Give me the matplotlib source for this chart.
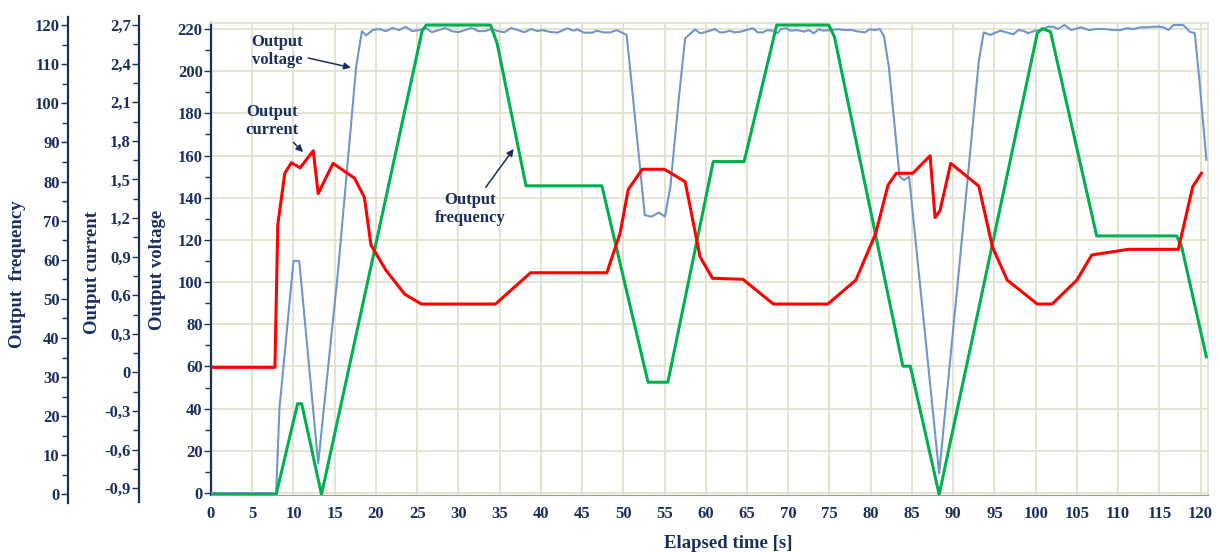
import matplotlib.pyplot as plt
from matplotlib.ticker import FixedLocator, MultipleLocator, FuncFormatter

NAVY = "#1b2f5e"
GRID = "#e2e2cc"
SERIF = "Liberation Serif"

# output voltage [V]
volt_t = [0, 7.9, 8.3, 10.0, 10.7, 13.0, 15.4, 17.6, 18.3,
          18.8, 19.6, 20.4, 21.2, 22.0, 22.8, 23.6, 24.4, 25.2, 26.0,
          26.8, 27.6, 28.4, 29.2, 30.0, 30.8, 31.6, 32.4, 33.2, 34.0,
          34.8, 35.6, 36.4, 37.2, 38.0, 38.8, 39.6, 40.2, 41.0, 42.0,
          43.2, 44.0, 44.4, 45.2, 46.2, 46.8, 47.6, 48.4, 49.2, 50.4,
          50.8, 52.6, 53.4, 54.3, 55.05, 55.7, 56.7, 57.5, 58.7, 59.3,
          59.9, 60.5, 61.1, 61.7, 62.3, 62.9, 63.5, 64.3, 64.9, 65.7,
          66.3, 66.9, 67.5, 68.1, 68.7, 69.1, 69.7, 70.3, 71.1, 71.9,
          72.5, 73.1, 73.7, 74.3, 75.1, 76.1, 76.9, 77.7, 78.5, 79.3,
          79.9, 80.5, 81.1, 81.6,
          82.2, 83.5, 84.05, 84.65, 88.3, 90.7, 93.1, 93.7,
          94.5, 95.7, 96.5, 97.3, 97.9, 98.5, 99.1, 99.9, 100.7, 101.5,
          102.1, 102.7, 103.5, 104.3, 105.5, 106.5, 107.3, 108.3, 109.5, 110.3,
          111.1, 111.9, 112.7, 113.5, 114.3, 114.9, 115.5, 116.1, 116.7, 117.9,
          118.7, 119.3, 119.9, 120.7]
volt_v = [0, 0, 40, 110, 110, 14, 105, 202, 219,
          217, 219.5, 220, 219, 220.5, 219.5, 221, 219, 219.5, 220.5,
          218.5, 219.5, 220.5, 219, 218.5, 219.5, 220.5, 219, 219, 220,
          219, 218.5, 220.5, 219.5, 218.5, 220, 219, 219.5, 218.7, 218.3,
          220.3, 219.2, 219.9, 218.3, 218.3, 219.2, 218.4, 218.4, 219.5, 217.2,
          202, 131.8, 131, 133, 131, 145, 186, 215.6, 219.8, 218,
          218.5, 219.2, 220, 218.4, 218.5, 219.2, 218.4, 218.8, 219.5, 220.4,
          218.4, 218.4, 219.5, 219.2, 218, 219.9, 220.4, 219.2, 219.5, 218.8,
          219.5, 218, 219.9, 219.2, 219.5, 219.9, 219.5, 219.5, 218.8, 218.4,
          219.9, 219.5, 220, 216.7,
          202, 150, 148.4, 150, 9.3, 105.7, 204.5, 218.4,
          217.2, 219.2, 218.4, 217.5, 219.5, 219.2, 218, 219.2, 219.5, 221.1,
          221.1, 220, 221.9, 219.5, 220.8, 219.5, 220, 220, 219.5, 219.5,
          220.4, 220, 220.8, 220.8, 221.1, 221.1, 220.8, 219.5, 221.9, 221.9,
          218.7, 218, 194, 158]

# output frequency [Hz]
freq_t = [0, 7.9, 10.5, 11.0, 13.4, 25.6, 26.1, 33.9, 34.7, 38.2,
          47.4, 53.0, 55.4, 60.9, 64.65, 68.6, 74.9, 75.6, 83.9, 84.8,
          88.3, 100.2, 100.8, 101.8, 107.4, 117.1, 117.7, 120.7]
freq_v = [0, 0, 23.2, 23.2, 0, 118.5, 120, 120, 115.3, 78.9,
          78.9, 28.7, 28.7, 85.1, 85.1, 120, 120, 117, 32.8, 32.8,
          0, 117.9, 119.1, 118.3, 66.1, 66.1, 63.4, 35.2]

# output current [A]
curr_t = [0, 7.75, 8.1, 8.95, 9.75, 10.8, 12.4, 13.0, 14.8, 17.4,
          18.6, 19.4, 21.2, 23.5, 25.5, 34.5, 38.75, 48.0, 49.6, 50.6,
          52.3, 55.0, 57.5, 59.3, 60.8, 64.5, 68.2, 74.8, 78.2, 80.6,
          82.1, 83.1, 85.1, 87.2, 87.8, 88.4, 89.7, 93.1, 94.75, 96.55,
          100.2, 102.0, 105.0, 106.8, 111.25, 117.3, 119.05, 120.1]
curr_v = [0.04, 0.04, 1.15, 1.548, 1.63, 1.59, 1.723, 1.39, 1.625, 1.51,
          1.361, 0.99, 0.796, 0.608, 0.532, 0.532, 0.775, 0.775, 1.08, 1.423,
          1.579, 1.579, 1.482, 0.90, 0.732, 0.724, 0.532, 0.532, 0.718, 1.08,
          1.457, 1.548, 1.548, 1.684, 1.205, 1.257, 1.625, 1.449, 0.977, 0.718,
          0.532, 0.532, 0.718, 0.913, 0.957, 0.957, 1.444, 1.548]

x_ticks = list(range(0, 121, 5))
volt_ticks = list(range(0, 221, 20))
freq_ticks = list(range(0, 121, 10))
curr_ticks = [-0.9, -0.6, -0.3, 0, 0.3, 0.6, 0.9, 1.2, 1.5, 1.8, 2.1, 2.4, 2.7]

W, H = 1220, 552
fig = plt.figure(figsize=(W / 100, H / 100), dpi=100)
ax = fig.add_axes([211 / W, 57 / H, 997 / W, 472.3 / H])

tick_font = dict(family=SERIF, weight="bold", size=12, color=NAVY)


def style_yaxis(a, ticks, minor_step, fmt=None):
    a.yaxis.set_major_locator(FixedLocator(ticks))
    a.yaxis.set_minor_locator(MultipleLocator(minor_step))
    if fmt is not None:
        a.yaxis.set_major_formatter(FuncFormatter(fmt))
    a.tick_params(axis="y", which="major", direction="out", length=5, width=1,
                  color=NAVY, pad=1)
    a.tick_params(axis="y", which="minor", direction="out", length=4, width=1,
                  color=NAVY)
    for lab in a.get_yticklabels():
        lab.set(**tick_font)


# main axes: voltage
ax.plot(volt_t, volt_v, color="#6f96cc", lw=1.5, zorder=3)
ax.set_xlim(0, 120.9)
ax.set_ylim(-0.95, 223)
ax.set_xticks(x_ticks)
ax.tick_params(axis="x", length=0, pad=8)
for lab in ax.get_xticklabels():
    lab.set(**tick_font)
style_yaxis(ax, volt_ticks, 10)
ax.grid(True, color=GRID, lw=1.3)
ax.set_axisbelow(True)
ax.spines["left"].set_color(NAVY)
ax.spines["left"].set_linewidth(1.6)
ax.spines["bottom"].set_color("#9a9a9a")
ax.spines["top"].set_color(GRID)
ax.spines["right"].set_color(GRID)
ax.spines["top"].set_linewidth(1.3)
ax.spines["right"].set_linewidth(1.3)

# frequency axis
ax_f = ax.twinx()
ax_f.plot(freq_t, freq_v, color="#00b050", lw=2.2, zorder=3)
ax_f.set_ylim(-0.13, 120.6)
for side in ["right", "top", "bottom"]:
    ax_f.spines[side].set_visible(False)
ax_f.yaxis.tick_left()
ax_f.spines["left"].set_visible(True)
ax_f.spines["left"].set_position(("axes", (68 - 211) / 997))
ax_f.spines["left"].set_color(NAVY)
ax_f.spines["left"].set_linewidth(1.6)
ax_f.spines["left"].set_bounds(-2.2, 122)
style_yaxis(ax_f, freq_ticks, 5)

# current axis
ax_c = ax.twinx()
ax_c.plot(curr_t, curr_v, color="#ff0000", lw=2.2, zorder=4)
ax_c.set_ylim(-0.952, 2.718)
for side in ["right", "top", "bottom"]:
    ax_c.spines[side].set_visible(False)
ax_c.yaxis.tick_left()
ax_c.spines["left"].set_visible(True)
ax_c.spines["left"].set_position(("axes", (139 - 211) / 997))
ax_c.spines["left"].set_color(NAVY)
ax_c.spines["left"].set_linewidth(1.6)
ax_c.spines["left"].set_bounds(-1.01, 2.77)
style_yaxis(ax_c, curr_ticks, 0.15,
            lambda v, p: "0" if abs(v) < 1e-9 else f"{v:.1f}".replace(".", ","))

label_font = dict(family=SERIF, weight="bold", size=13.5, color=NAVY)
fig.text(18 / W, 1 - 274 / H, "Output  frequency", rotation=90,
         ha="center", va="center", **label_font)
fig.text(92 / W, 1 - 272 / H, "Output current", rotation=90,
         ha="center", va="center", **label_font)
fig.text(157 / W, 1 - 270 / H, "Output voltage", rotation=90,
         ha="center", va="center", **label_font)
fig.text(728 / W, 1 - 544 / H, "Elapsed time [s]", ha="center", va="center",
         **label_font)

note_font = dict(family=SERIF, weight="bold", size=12, color=NAVY,
                 ha="center", va="center", linespacing=1.1)
arrow = dict(arrowstyle="-|>", color=NAVY, lw=1.1, mutation_scale=10)
ax.annotate("Output\nvoltage", xy=(17.3, 201.4), xytext=(8.0, 209.6),
            arrowprops=arrow, zorder=6, **note_font)
ax.annotate("Output\ncurrent", xy=(11.4, 160.7), xytext=(7.4, 176.4),
            arrowprops=arrow, zorder=6, **note_font)
ax.annotate("Output\nfrequency", xy=(36.9, 164.2), xytext=(31.4, 134.7),
            arrowprops=arrow, zorder=6, **note_font)

fig.savefig("out.png", dpi=100)
